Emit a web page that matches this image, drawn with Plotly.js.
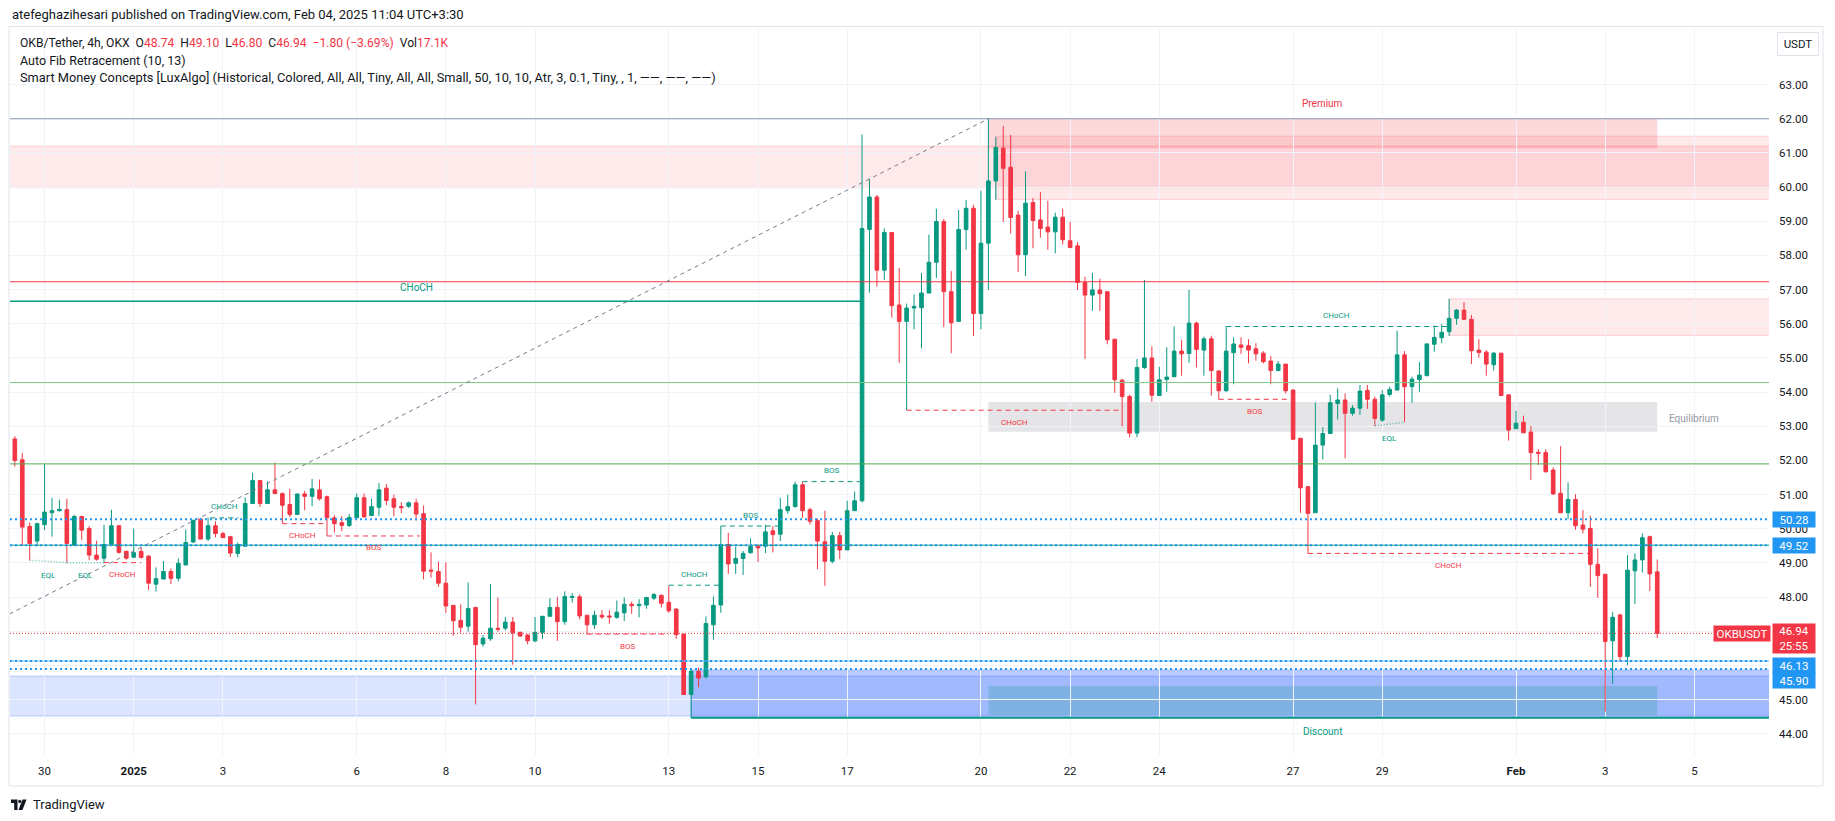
<!DOCTYPE html>
<html>
<head>
<meta charset="utf-8">
<script src="https://cdn.plot.ly/plotly-3.0.1.min.js"></script>
<style>
  html, body { margin: 0; padding: 0; background: #ffffff; }
  #chart { width: 1835px; height: 821px; }
</style>
</head>
<body>
<div id="chart"></div>
<script>
// OKB/USDT 4h (OKX) — candles + Auto Fib + LuxAlgo SMC overlays

// bar 0 = Dec 29 2024 08:00 UTC, one bar every 4h
const FIRST_BAR = Date.UTC(2024, 11, 29, 8);
const BAR_MS = 4 * 3600 * 1000;

const opens = [
  52.63,52.02,50.07,49.64,50.12,50.47,50.53,50.56,49.54,50.36,
  50.01,49.23,49.14,49.54,50.09,49.34,49.17,49.34,49.20,48.38,
  48.53,48.75,48.55,48.94,49.61,50.28,49.70,50.09,49.86,49.77,
  49.28,49.49,50.74,51.41,50.74,51.14,51.03,50.71,50.42,51.02,
  50.95,51.14,50.94,50.32,50.18,50.10,50.32,50.91,50.39,50.63,
  51.19,50.88,50.65,50.66,50.76,50.44,48.79,48.75,48.41,47.76,
  47.32,47.15,47.70,46.63,46.78,47.09,47.09,47.27,46.97,46.89,
  46.72,46.97,47.44,47.70,47.28,47.99,48.01,47.47,47.19,47.47,
  47.45,47.41,47.54,47.79,47.75,47.77,47.97,48.05,47.85,47.65,
  46.92,45.15,45.83,45.67,47.19,47.77,49.54,48.99,49.13,49.30,
  49.49,49.49,49.94,49.84,50.53,50.65,51.29,50.56,50.24,49.62,
  49.05,49.80,49.38,50.53,50.82,58.76,59.71,57.57,58.67,56.55,
  56.07,56.46,56.47,56.90,57.80,58.99,56.94,56.07,58.76,59.38,
  56.30,58.36,60.18,61.14,60.58,59.18,58.02,59.55,59.04,58.83,
  58.69,59.12,58.43,58.28,57.21,56.84,56.99,56.94,55.55,54.35,
  53.87,52.80,54.72,55.00,53.90,54.37,54.45,55.20,55.13,56.02,
  55.23,55.56,54.62,54.04,55.15,55.38,55.36,55.27,55.14,54.91,
  54.63,54.82,54.06,52.65,51.23,50.47,52.45,52.79,53.67,53.77,
  53.38,53.53,54.05,53.79,53.18,53.93,54.06,55.09,54.16,54.37,
  54.48,55.40,55.59,55.77,56.16,56.40,56.13,55.23,55.17,54.80,
  55.14,53.92,52.93,53.12,52.83,52.24,52.23,51.72,51.04,50.47,
  50.86,50.11,50.01,48.96,48.67,46.72,47.48,46.26,48.77,49.09,
  49.77,48.74
];
const highs = [
  52.71,52.22,50.18,50.18,51.89,50.91,50.85,50.88,50.41,50.38,
  50.08,49.65,50.12,50.56,50.09,49.36,50.01,49.45,49.23,48.87,
  49.06,48.84,49.13,49.98,50.25,50.32,50.33,50.22,49.91,49.77,
  49.60,50.92,51.64,51.41,51.39,51.94,51.06,51.17,51.02,51.11,
  51.46,51.44,50.97,50.40,50.37,50.43,51.03,51.03,50.88,51.34,
  51.31,51.00,50.78,50.80,50.88,50.68,49.31,49.04,49.02,47.76,
  47.79,48.43,47.70,46.89,48.38,47.99,47.42,47.42,46.99,46.92,
  47.42,47.44,47.97,48.01,48.17,48.12,48.08,47.47,47.60,47.62,
  47.62,47.90,47.99,47.87,47.94,48.01,48.11,48.08,48.34,47.68,
  46.92,45.91,45.94,47.44,48.02,50.08,49.88,49.48,49.35,49.72,
  49.54,50.12,50.08,50.91,51.00,51.38,51.38,50.62,50.30,50.53,
  49.91,49.91,50.82,51.09,61.54,60.23,59.77,58.79,58.67,57.63,
  56.59,56.86,57.49,58.61,59.37,59.07,57.54,59.33,59.62,59.48,
  59.89,62.00,61.47,61.79,61.53,59.31,60.46,59.68,59.86,59.60,
  59.25,59.37,58.98,58.39,57.38,57.49,57.32,56.94,55.55,54.39,
  53.93,54.97,57.28,55.34,54.74,55.31,55.92,55.53,56.99,56.06,
  55.62,55.65,54.62,55.92,55.60,55.60,55.55,55.43,55.20,55.06,
  54.91,54.82,54.09,52.65,51.25,53.69,52.97,53.92,54.11,53.96,
  53.62,54.21,54.21,53.87,54.06,54.16,55.80,55.20,54.45,54.88,
  55.43,55.95,55.99,56.73,56.43,56.64,56.26,55.55,55.23,55.17,
  55.14,53.92,53.45,53.31,53.01,52.33,52.33,51.80,52.42,51.36,
  51.01,50.55,50.38,49.43,48.67,47.57,47.51,49.23,49.28,49.87,
  49.80,49.10
];
const lows = [
  51.82,49.52,49.08,49.49,49.96,49.77,50.51,49.01,49.49,49.67,
  49.08,49.07,49.01,49.52,49.27,49.10,49.14,49.13,48.21,48.16,
  48.53,48.38,48.46,48.94,49.60,49.70,49.64,49.75,49.74,49.17,
  49.17,49.49,50.74,50.64,50.74,51.03,50.15,50.34,50.42,50.54,
  50.66,50.83,49.79,49.89,49.93,50.05,50.32,50.32,50.39,50.37,
  50.69,50.37,50.46,50.61,50.24,48.52,48.57,48.30,47.54,46.87,
  46.96,46.99,44.86,46.55,46.72,46.99,47.02,46.02,46.84,46.62,
  46.68,46.78,47.44,46.72,47.19,47.84,47.35,46.92,47.07,47.36,
  47.22,47.37,47.30,47.51,47.41,47.66,47.92,47.70,47.54,46.78,
  45.15,45.15,45.36,45.61,46.75,47.54,48.68,48.68,48.65,49.27,
  49.03,49.29,49.31,49.64,50.44,50.62,50.32,50.12,48.82,48.33,
  48.99,49.11,49.38,50.53,50.77,56.91,57.09,57.28,56.18,54.86,
  53.47,55.84,55.28,56.90,57.34,55.90,55.14,56.07,58.17,55.64,
  55.84,56.99,59.63,58.98,58.64,57.51,57.40,58.21,58.52,58.17,
  58.06,58.32,58.23,56.99,54.97,56.38,56.38,55.40,53.98,53.00,
  52.68,52.68,54.68,53.72,53.90,54.01,54.45,54.48,54.86,54.72,
  54.48,53.90,53.79,54.01,54.23,55.12,54.84,54.92,54.84,54.23,
  54.63,53.96,52.62,50.47,49.28,50.47,52.03,52.79,53.20,52.06,
  53.31,53.33,53.51,53.01,53.13,53.87,54.06,53.12,53.69,54.01,
  54.48,55.18,55.43,55.64,55.97,56.13,54.82,55.01,54.48,54.63,
  53.90,52.58,52.93,52.81,51.43,51.87,51.64,50.99,50.47,50.28,
  49.97,49.87,48.30,47.98,44.65,45.46,46.11,46.01,47.80,48.72,
  48.18,46.80
];
const closes = [
  52.00,50.05,49.57,50.15,50.49,50.53,50.57,49.57,50.36,49.96,
  49.23,49.11,49.54,50.09,49.31,49.14,49.30,49.16,48.41,48.54,
  48.75,48.55,48.99,49.60,50.25,49.70,50.09,49.86,49.74,49.29,
  49.54,50.74,51.41,50.74,51.14,51.03,50.69,50.42,51.02,50.95,
  51.17,50.88,50.32,50.15,50.10,50.33,50.91,50.35,50.65,51.14,
  50.83,50.63,50.62,50.76,50.43,48.76,48.76,48.41,47.74,47.31,
  47.12,47.67,46.61,46.80,47.09,47.06,47.27,46.96,46.86,46.72,
  46.97,47.44,47.70,47.28,48.02,48.02,47.45,47.19,47.47,47.42,
  47.42,47.56,47.79,47.75,47.79,47.99,48.08,47.82,47.60,46.90,
  45.15,45.83,45.63,47.23,47.76,49.54,48.97,49.13,49.28,49.48,
  49.44,49.91,49.83,50.56,50.65,51.29,50.53,50.22,49.64,49.05,
  49.80,49.38,50.53,50.82,58.79,59.71,57.57,58.67,56.53,56.07,
  56.46,56.51,56.90,57.80,58.99,56.94,56.03,58.76,59.38,56.30,
  58.36,60.18,61.16,60.55,59.11,58.02,59.53,59.02,58.79,58.69,
  59.12,58.46,58.23,57.21,56.84,56.99,56.88,55.53,54.36,53.87,
  52.80,54.72,55.00,53.91,54.36,54.44,55.20,55.12,56.02,55.25,
  55.56,54.63,54.04,55.20,55.41,55.31,55.23,55.12,54.89,54.63,
  54.82,54.04,52.62,51.20,50.45,52.45,52.79,53.69,53.77,53.38,
  53.53,54.03,53.79,53.23,53.92,54.08,55.09,54.16,54.38,54.50,
  55.41,55.60,55.75,56.16,56.40,56.13,55.21,55.16,54.82,55.14,
  53.90,52.89,53.09,52.81,52.23,52.21,51.67,51.02,50.47,50.86,
  50.09,49.99,48.96,48.63,46.70,47.41,46.26,48.79,49.09,49.74,
  48.68,46.94
];

// time axis labels (bar index of the first bar of each labelled day)
const tickBars = [4, 16, 28, 46, 58, 70, 88, 100, 112, 130, 142, 154, 172, 184, 202, 214, 226];
const tickText = ['30', '<b>2025</b>', '3', '6', '8', '10', '13', '15', '17', '20', '22', '24', '27', '29', '<b>Feb</b>', '3', '5'];
const priceTicks = [44,45,46,47,48,49,50,51,52,53,54,55,56,57,58,59,60,61,62,63];

// auto fib levels (0 .. 0.786) and trend line (from off-screen low to the high)
const fibLevels = [62.00, 57.23, 54.28, 51.90, 49.52, 46.13];
const fibColors = ['#8c94b4', '#f23645', '#81c784', '#4caf50', '#089981', '#64b5f6'];
const fibTrend = { fromBar: -52.6, fromPrice: 41.8, toBar: 131, toPrice: 62.0 };

// blue horizontal rays + last price
const rayPrices = [50.28, 49.52, 46.13, 45.90];
const lastPrice = 46.94;

// internal structure (dashed): from bar, to bar, price, label, bullish?
const brkFrom  = [26.3, 88, 95, 106, 163, 12, 36, 42, 77, 120, 162, 174];
const brkTo    = [30.1, 95, 103, 113.7, 192.8, 17, 41.5, 54.5, 88, 149, 171.5, 211.7];
const brkPrice = [50.32, 48.35, 50.08, 51.38, 55.92, 49.01, 50.15, 49.79, 46.92, 53.47, 53.79, 49.28];
const brkLabel = ['CHoCH', 'CHoCH', 'BOS', 'BOS', 'CHoCH', 'CHoCH', 'CHoCH', 'BOS', 'BOS', 'CHoCH', 'BOS', 'CHoCH'];
const brkBull  = [true, true, true, true, true, false, false, false, false, false, false, false];

// swing structure (solid)
const swingFrom = -5, swingTo = 113.8, swingPrice = 56.66;

// equal lows
const eqlFrom = [2, 7, 183];
const eqlTo = [7, 12, 187];
const eqlP0 = [49.08, 49.01, 53.01];
const eqlP1 = [49.01, 49.01, 53.12];

// premium / equilibrium / discount
const zoneFrom = 131, zoneTo = 221;
const premium = [61.13, 62.00];
const equilibrium = [52.84, 53.71];
const discount = [44.55, 45.40];

// order blocks: from bar, bottom, top (extend to the right edge)
const bearObFrom = [-5, 132, 193];
const bearObLo = [59.98, 59.64, 55.66];
const bearObHi = [61.20, 61.49, 56.73];
const bullObFrom = [-5, 91];
const bullObLo = [44.52, 44.47];
const bullObHi = [45.69, 45.87];

const TEAL = '#089981', RED = '#f23645', BLUE = '#2196f3';

function barTime(i) {
  return new Date(FIRST_BAR + i * BAR_MS).toISOString().slice(0, 19).replace('T', ' ');
}
// pixel helpers for things outside the plot (frame, header, logo)
const PL = 10, PR = 1769, PT = 29, PB = 755;
const px = X => (X - PL) / (PR - PL);
const py = Y => (PB - Y) / (PB - PT);

const barTimes = opens.map((_, i) => barTime(i));

const shapes = [];
const annotations = [];

function box(b0, b1, lo, hi, fill, line) {
  shapes.push({
    type: 'rect', xref: 'x', yref: 'y', x0: barTime(b0), x1: barTime(b1), y0: lo, y1: hi,
    fillcolor: fill, line: { color: line || 'rgba(0,0,0,0)', width: line ? 1 : 0 }, layer: 'below'
  });
}
function seg(b0, p0, b1, p1, color, width, dash) {
  shapes.push({
    type: 'line', xref: 'x', yref: 'y', x0: barTime(b0), y0: p0, x1: barTime(b1), y1: p1,
    line: { color: color, width: width, dash: dash || 'solid' }, layer: 'above'
  });
}
function fullLine(p, color, width, dash) {
  shapes.push({
    type: 'line', xref: 'paper', yref: 'y', x0: 0, x1: 1, y0: p, y1: p,
    line: { color: color, width: width, dash: dash || 'solid' }, layer: 'above'
  });
}
function label(bar, price, text, color, size, yshift) {
  annotations.push({
    xref: 'x', yref: 'y', x: barTime(bar), y: price, text: text, showarrow: false,
    font: { size: size, color: color, family: 'Roboto, sans-serif' }, yshift: yshift || 0
  });
}

// order blocks
bearObFrom.forEach((b, i) => box(b, 240, bearObLo[i], bearObHi[i], 'rgba(242,54,69,0.11)', 'rgba(242,54,69,0.18)'));
bullObFrom.forEach((b, i) => box(b, 240, bullObLo[i], bullObHi[i], i ? 'rgba(41,98,255,0.33)' : 'rgba(41,98,255,0.17)', 'rgba(41,98,255,0.28)'));

// zones
box(zoneFrom, zoneTo, premium[0], premium[1], 'rgba(242,54,69,0.19)');
box(zoneFrom, zoneTo, equilibrium[0], equilibrium[1], 'rgba(135,138,145,0.22)');
box(zoneFrom, zoneTo, discount[0], discount[1], 'rgba(8,153,129,0.22)');
label((zoneFrom + zoneTo) / 2, premium[1], 'Premium', RED, 10, 15);
label((zoneFrom + zoneTo) / 2, discount[0], 'Discount', TEAL, 10, -16);
label(226, (equilibrium[0] + equilibrium[1]) / 2, 'Equilibrium', '#9598a1', 10, -2);

// trailing low
seg(bullObFrom[1], bullObLo[1], 240, bullObLo[1], TEAL, 2);
seg(bullObFrom[1], bullObLo[1], bullObFrom[1], lows[91], TEAL, 1);

// fib
fibLevels.forEach((p, i) => fullLine(p, fibColors[i], 1));
seg(fibTrend.fromBar, fibTrend.fromPrice, fibTrend.toBar, fibTrend.toPrice, '#787b86', 1, '4px,4px');

// rays and last price
rayPrices.forEach(p => fullLine(p, BLUE, 2, '2px,3px'));
fullLine(lastPrice, RED, 1, '1px,2px');

// structure
brkFrom.forEach((b, i) => {
  const c = brkBull[i] ? TEAL : RED;
  seg(b, brkPrice[i], brkTo[i], brkPrice[i], c, 1, '5px,4px');
  label((b + brkTo[i]) / 2, brkPrice[i], brkLabel[i], c, 8, brkBull[i] ? 11 : -12);
});
seg(swingFrom, swingPrice, swingTo, swingPrice, TEAL, 1.5);
label(54, swingPrice, 'CHoCH', TEAL, 10, 14);

eqlFrom.forEach((b, i) => {
  seg(b, eqlP0[i], eqlTo[i], eqlP1[i], 'rgba(8,153,129,0.6)', 1.5, '1px,2px');
  label((b + eqlTo[i]) / 2, Math.min(eqlP0[i], eqlP1[i]), 'EQL', TEAL, 8, -13);
});

// chart frame
shapes.push({ type: 'rect', xref: 'paper', yref: 'paper', x0: px(9), x1: px(1823), y0: py(786), y1: py(26.5),
  line: { color: '#e0e3eb', width: 1 }, fillcolor: 'rgba(0,0,0,0)', layer: 'above' });

// TradingView logo
shapes.push({ type: 'path', xref: 'paper', yref: 'paper', fillcolor: '#131722', line: { width: 0 },
  path: `M ${px(11)} ${py(799.5)} L ${px(17.5)} ${py(799.5)} L ${px(17.5)} ${py(810)} L ${px(14.2)} ${py(810)} L ${px(14.2)} ${py(803)} L ${px(11)} ${py(803)} Z` });
shapes.push({ type: 'circle', xref: 'paper', yref: 'paper', fillcolor: '#131722', line: { width: 0 },
  x0: px(18.2), x1: px(21.4), y0: py(803), y1: py(799.8) });
shapes.push({ type: 'path', xref: 'paper', yref: 'paper', fillcolor: '#131722', line: { width: 0 },
  path: `M ${px(22.5)} ${py(799.5)} L ${px(26.5)} ${py(799.5)} L ${px(22.5)} ${py(810)} L ${px(18.5)} ${py(810)} Z` });

// header texts
const FONT = 'Roboto, "Open Sans", sans-serif';
function paperText(X, Y, text, size, color) {
  annotations.push({ xref: 'paper', yref: 'paper', x: px(X), y: py(Y), xanchor: 'left', yanchor: 'middle',
    text: text, showarrow: false, font: { size: size, color: color || '#131722', family: FONT } });
}
const r = v => `<span style="color:${RED}">${v}</span>`;
paperText(9.5, 15, 'atefeghazihesari published on TradingView.com, Feb 04, 2025 11:04 UTC+3:30', 13);
paperText(18, 43, `OKB/Tether, 4h, OKX\u00a0\u00a0O${r('48.74')}\u00a0\u00a0H${r('49.10')}\u00a0\u00a0L${r('46.80')}\u00a0\u00a0C${r('46.94')}\u00a0\u00a0${r('\u22121.80 (\u22123.69%)')}\u00a0\u00a0Vol${r('17.1K')}`, 12.1);
paperText(18, 60, 'Auto Fib Retracement (10, 13)', 12.5);
paperText(18, 77, 'Smart Money Concepts [LuxAlgo] (Historical, Colored, All, All, Tiny, All, All, Small, 50, 10, 10, Atr, 3, 0.1, Tiny, , 1, \u2014\u2014, \u2014\u2014, \u2014\u2014)', 12.8);
paperText(31, 805, 'TradingView', 13);

// price scale badges (shifted apart like the real scale does)
function badge(price, text, bg, h, shift) {
  annotations.push({ xref: 'paper', yref: 'y', x: px(1771.5), y: price, xanchor: 'left', yanchor: 'middle',
    yshift: shift || 0, text: text, showarrow: false, bgcolor: bg, width: 40, height: h || 13, borderpad: 1, align: 'center',
    font: { size: 11.5, color: '#ffffff', family: FONT } });
}
badge(50.28, '50.28', BLUE);
badge(49.52, '49.52', BLUE);
badge(46.13, '46.13', BLUE, 13, -4);
badge(45.90, '45.90', BLUE, 13, -12);
badge(lastPrice, '46.94<br>25:55', RED, 27, -5);
annotations.push({ xref: 'paper', yref: 'y', x: px(1771), y: lastPrice, xanchor: 'right', yanchor: 'middle', yshift: 0,
  text: 'OKBUSDT', showarrow: false, bgcolor: RED, width: 54, height: 13, borderpad: 1,
  font: { size: 11.5, color: '#ffffff', family: FONT } });
annotations.push({ xref: 'paper', yref: 'paper', x: px(1797.5), y: py(44), xanchor: 'center', yanchor: 'middle',
  text: 'USDT', showarrow: false, bgcolor: '#ffffff', bordercolor: '#e0e3eb', borderwidth: 1, width: 38, height: 20,
  font: { size: 11.5, color: '#131722', family: FONT } });

const candles = {
  type: 'candlestick', x: barTimes, open: opens, high: highs, low: lows, close: closes,
  increasing: { line: { color: TEAL, width: 1 }, fillcolor: TEAL },
  decreasing: { line: { color: RED, width: 1 }, fillcolor: RED },
  whiskerwidth: 0, hoverinfo: 'none'
};

const layout = {
  width: 1835, height: 821,
  margin: { l: PL, r: 1835 - PR, t: PT, b: 821 - PB },
  paper_bgcolor: '#ffffff', plot_bgcolor: '#ffffff',
  showlegend: false, hovermode: false, dragmode: false,
  font: { family: FONT, size: 11.5, color: '#131722' },
  xaxis: {
    type: 'date', range: [barTime(-0.65), barTime(236.04)],
    tickvals: tickBars.map(barTime), ticktext: tickText,
    showgrid: true, gridcolor: '#f0f3fa', gridwidth: 1, zeroline: false, showline: false,
    ticks: '', ticklabelstandoff: 7, rangeslider: { visible: false },
    tickfont: { size: 11.5, color: '#131722', family: FONT }
  },
  yaxis: {
    side: 'right', range: [43.38, 64.627],
    tickvals: priceTicks, ticktext: priceTicks.map(v => v.toFixed(2)),
    showgrid: true, gridcolor: '#f0f3fa', gridwidth: 1, zeroline: false, showline: false,
    ticks: '', ticklabelstandoff: 9,
    tickfont: { size: 11.5, color: '#131722', family: FONT }
  },
  shapes: shapes,
  annotations: annotations
};

Plotly.newPlot('chart', [candles], layout, { staticPlot: true, displayModeBar: false });
</script>
</body>
</html>
